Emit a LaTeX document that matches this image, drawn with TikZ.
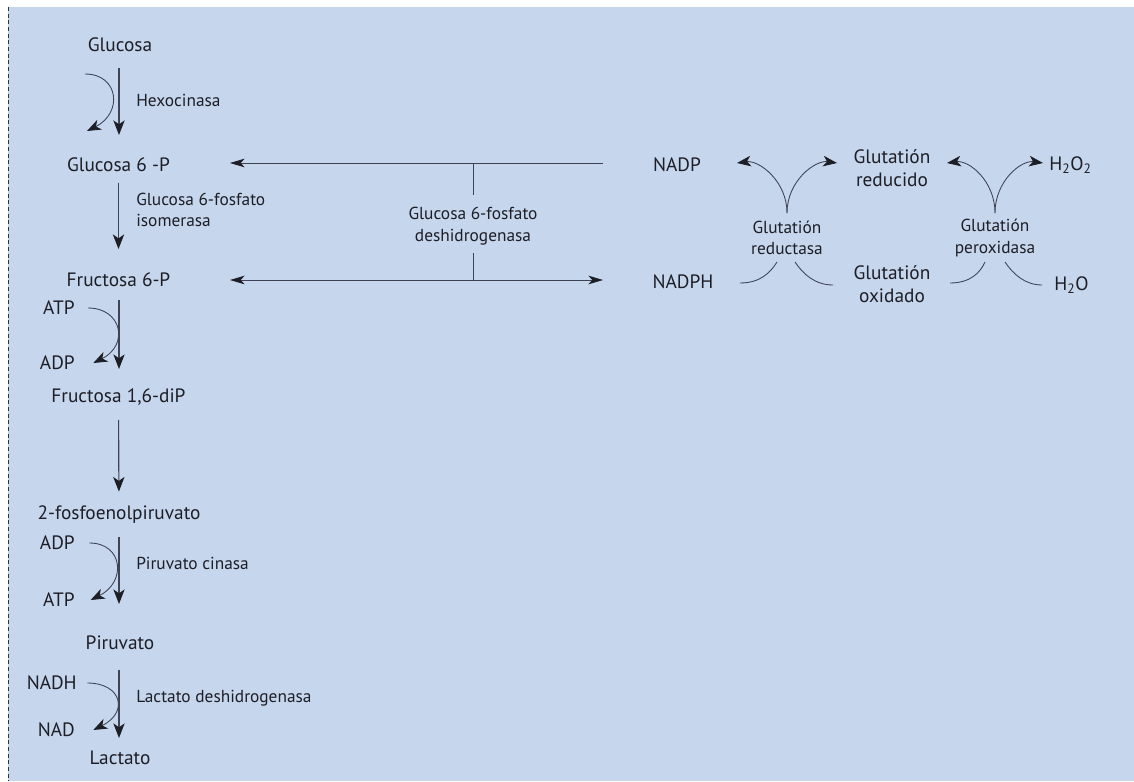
\documentclass[tikz,border=0pt]{standalone}
\usepackage{fontspec}
\setmainfont{PT Sans}
\usetikzlibrary{arrows.meta}

\definecolor{bgblue}{RGB}{197,214,237}
\definecolor{inkgray}{RGB}{30,30,38}
\definecolor{linegray}{RGB}{62,68,86}

\tikzset{
  met/.style={inner sep=0.75pt, text=inkgray, font=\fontsize{14.5}{17}\selectfont},
  enz/.style={inner sep=0.75pt, text=inkgray, font=\fontsize{13}{16}\selectfont, align=left},
  enzc/.style={enz, align=center},
  rxn/.style={draw=linegray, line width=0.85pt, -{Stealth[length=11pt,width=8.5pt,inset=3pt,color=inkgray]}},
  side/.style={draw=linegray, line width=0.65pt, -{Stealth[length=10.5pt,width=8pt,inset=3pt,color=inkgray]}},
  hline/.style={draw=linegray, line width=0.65pt},
  harr/.style={hline, -{Stealth[length=11pt,width=6.5pt,inset=3pt,color=inkgray]}},
  harr2/.style={hline, {Stealth[length=11pt,width=6.5pt,inset=3pt,color=inkgray]}-{Stealth[length=11pt,width=6.5pt,inset=3pt,color=inkgray]}},
}

\begin{document}
\begin{tikzpicture}[x=0.75pt,y=0.75pt,yscale=-1,xscale=1]
\useasboundingbox (0,0) rectangle (1134,781);

% background and left border
\fill[bgblue] (8,7) rectangle (1134,781);
\draw[black!80, line width=0.6pt, dash pattern=on 3pt off 2pt] (8,7) -- (8,781);

% Glycolysis column
\node[met] (gluc) at (120,45) {Glucosa};
\node[met] (g6p) at (118.5,165) {Glucosa 6 -P};
\node[met] (f6p) at (118.5,280) {Fructosa 6-P};
\node[met] (f16) at (118.5,397) {Fructosa 1,6-diP};
\node[met] (pep) at (119,515) {2-fosfoenolpiruvato};
\node[met] (pir) at (120,643) {Piruvato};
\node[met] (lac) at (120,758) {Lactato};

% cofactors
\node[met, anchor=east] (atp1) at (76,308) {ATP};
\node[met, anchor=east] (adp1) at (76,363) {ADP};
\node[met, anchor=east] (adp2) at (76,543) {ADP};
\node[met, anchor=east] (atp2) at (76,600) {ATP};
\node[met, anchor=east] (nadh) at (78,683) {NADH};
\node[met, anchor=east] (nad) at (76,730) {NAD};

% enzymes
\node[enz, anchor=west] (hexo) at (135,100) {Hexocinasa};
\node[enz, anchor=west] (gpi) at (135,210) {Glucosa 6-fosfato\\isomerasa};
\node[enz, anchor=west] (pk) at (135,563) {Piruvato cinasa};
\node[enz, anchor=west] (ldh) at (135,698) {Lactato deshidrogenasa};

% main arrows
\draw[rxn] (119,68) -- (119,135);
\draw[rxn, shorten <=7pt, shorten >=17pt] (g6p) -- (f6p);
\draw[rxn] (119,300) -- (119,369);
\draw[rxn, shorten <=10pt, shorten >=10pt] (f16) -- (pep);
\draw[rxn] (119,537) -- (119,604);
\draw[rxn] (119,670) -- (119,738);

% side reactions
\coordinate (hexin) at (85,74);
\coordinate (hexout) at (87,131);
\draw[side] (hexin) .. controls +(34,0) and +(36,-18) .. (hexout);
\draw[side] ([xshift=9]atp1.east) .. controls +(34,0) and +(36,-18) .. ([xshift=13]adp1.east);
\draw[side] ([xshift=10]adp2.east) .. controls +(34,0) and +(36,-18) .. ([xshift=11]atp2.east);
\draw[side] ([xshift=7]nadh.east) .. controls +(34,0) and +(36,-18) .. ([xshift=13]nad.east);

% pentose phosphate shunt
\node[enzc] (g6pdh) at (473,226) {Glucosa 6-fosfato\\deshidrogenasa};
\coordinate (topR) at (603,163);
\coordinate (topL) at (230,163);
\coordinate (botR) at (603,280);
\coordinate (botL) at (230,280);
\draw[harr] (topR) -- (topL);
\draw[harr2] (botL) -- (botR);
\draw[hline] (473,163) -- (473,195);
\draw[hline] (473,253) -- (473,280);

% glutathione cycle
\node[met] (nadp) at (677,165) {NADP};
\node[met] (nadph) at (683,282) {NADPH};
\node[met, align=center] (gsh) at (892,168) {Glutatión\\reducido};
\node[met, align=center] (gssg) at (892,284) {Glutatión\\oxidado};
\node[met, anchor=west] (h2o2) at (1048,165) {H\textsubscript{2}O\textsubscript{2}};
\node[met, anchor=west] (h2o) at (1053,285) {H\textsubscript{2}O};
\node[enzc] (gr) at (787,238) {Glutatión\\reductasa};
\node[enzc] (gpx) at (995,238) {Glutatión\\peroxidasa};

\coordinate (grtop) at (787,213);
\coordinate (gpxtop) at (995,213);
\draw[side] (grtop) .. controls +(0,-32) and +(22,-3) .. (737,163);
\draw[side] (grtop) .. controls +(0,-32) and +(-22,-3) .. (837,163);
\draw[side] (gpxtop) .. controls +(0,-32) and +(22,-3) .. (947,163);
\draw[side] (gpxtop) .. controls +(0,-32) and +(-22,-3) .. (1043,163);

\draw[hline] (740,283) .. controls (760,283) and (770,273) .. (777,262);
\draw[hline] (795,262) .. controls (803,274) and (815,285) .. (833,285);
\draw[hline] (950,283) .. controls (970,283) and (980,273) .. (985,262);
\draw[hline] (1005,262) .. controls (1013,274) and (1025,285) .. (1042,285);

\end{tikzpicture}
\end{document}
